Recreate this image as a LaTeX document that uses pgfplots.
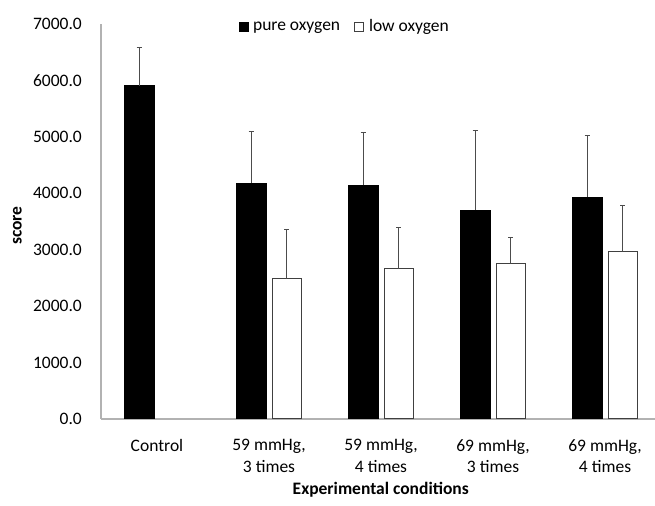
\documentclass[border=0pt]{standalone}
\usepackage{pgfplots}
\pgfplotsset{compat=1.18}
\usepackage{fontspec}
\setmainfont{Carlito}
\newcommand{\ff}{\fontsize{17.5}{21.5}\selectfont}
\begin{document}
\ff
\begin{tikzpicture}
\begin{axis}[name=ax, scale only axis, width=554pt, height=395pt,
  xmin=-0.5, xmax=4.446, ymin=0, ymax=7000,
  axis x line*=bottom, axis y line*=left,
  axis line style={draw=gray!60, line width=1.3pt, -},
  major tick length=0pt,
  ytick={0,1000,...,7000},
  xtick={0,1,2,3,4},
  xticklabels={Control,{59 mmHg,\\3 times},{59 mmHg,\\4 times},{69 mmHg,\\3 times},{69 mmHg,\\4 times}},
  xticklabel style={align=center, font=\ff, inner sep=0pt, anchor=north, yshift=-20pt},
  yticklabel style={font=\ff, inner sep=0pt, anchor=east, xshift=-19pt},
  /pgf/number format/.cd, fixed, fixed zerofill, precision=1, 1000 sep={}, assume math mode=true,
  /pgfplots/.cd,
  ylabel={score}, ylabel style={font=\ff\bfseries, at={(axis description cs:-0.151,0.49)}, anchor=center, rotate=0},
  xlabel={Experimental conditions}, xlabel style={font=\ff\bfseries, at={(axis description cs:0.505,-0.18)}, anchor=center},
  legend columns=2,
  legend style={at={(axis description cs:0.44,0.992)}, anchor=center, draw=none, fill=none, font=\ff,
    /tikz/every even column/.append style={column sep=12pt}},
  error bars/error bar style={line width=1pt, draw=black!70},
  error bars/error mark options={rotate=90, line width=1pt, mark size=2.5pt, draw=black!70},
]
% pure oxygen bars sit 0.16 left of each category, low oxygen bars 0.16 right
\addplot[ybar, bar width=0.265, bar shift=0pt, fill=black, draw=black,
  legend image code/.code={\draw[fill=black,draw=black] (0pt,-4.5pt) rectangle (9pt,4.5pt); \path (12pt,0pt);},
  error bars/.cd, y dir=plus, y explicit]
  coordinates {(-0.16,5910) +- (0,670) (0.84,4180) +- (0,920) (1.84,4140) +- (0,935) (2.84,3700) +- (0,1420) (3.84,3930) +- (0,1090)};
\addlegendentry{pure oxygen}
\addplot[ybar, bar width=0.265, bar shift=0pt, fill=white, draw=black!75, line width=1pt,
  legend image code/.code={\draw[fill=white,draw=black!75,line width=0.8pt] (0pt,-4.5pt) rectangle (9pt,4.5pt); \path (12pt,0pt);},
  error bars/.cd, y dir=plus, y explicit]
  coordinates {(1.16,2490) +- (0,870) (2.16,2660) +- (0,730) (3.16,2760) +- (0,450) (4.16,2970) +- (0,810)};
\addlegendentry{low oxygen}
\end{axis}
\pgfresetboundingbox
\path ([shift={(-101pt,-87pt)}]ax.south west) rectangle ([shift={(0pt,24pt)}]ax.north east);
\end{tikzpicture}
\end{document}
